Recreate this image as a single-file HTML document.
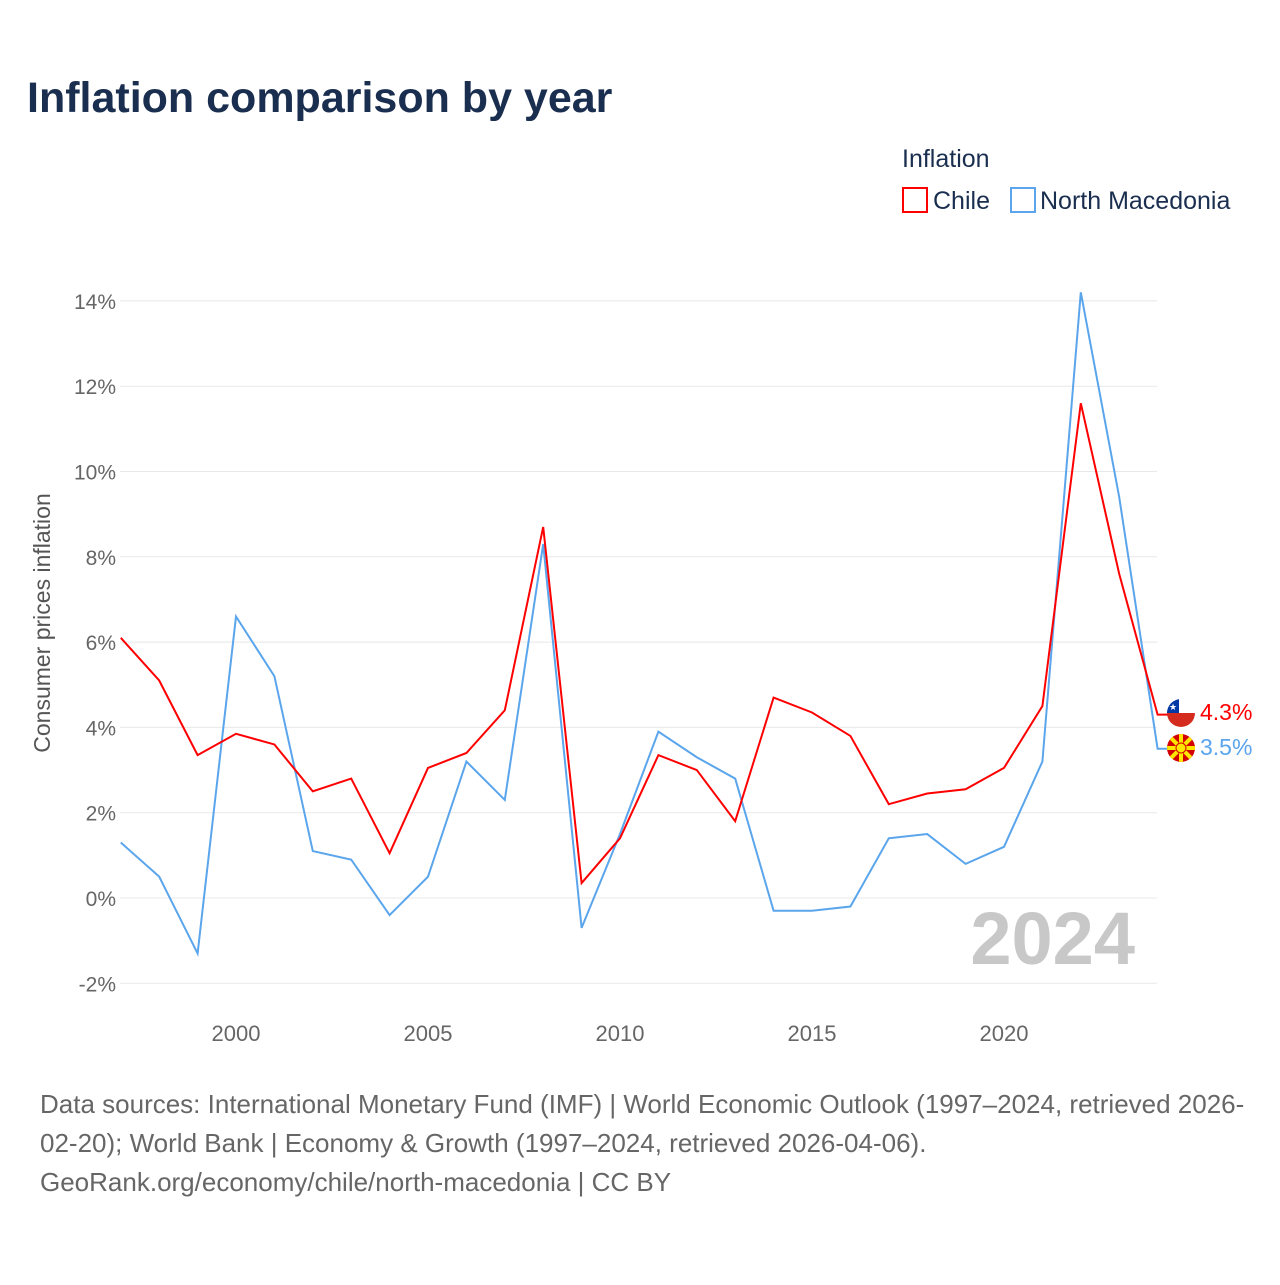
<!DOCTYPE html>
<html><head><meta charset="utf-8"><style>
body{margin:0;background:#fff;font-family:"Liberation Sans",sans-serif;}
</style></head><body>
<svg width="1280" height="1280" xmlns="http://www.w3.org/2000/svg">
<text x="27" y="112" font-size="43" font-weight="bold" fill="#1a2e4f">Inflation comparison by year</text>
<text x="902" y="167" font-size="25" fill="#1a2e4f">Inflation</text>
<g><rect x="903" y="188" width="24" height="24" fill="none" stroke="#f00" stroke-width="2"/><text x="933" y="209" font-size="25" fill="#1a2e4f">Chile</text></g>
<g><rect x="1011" y="188" width="24" height="24" fill="none" stroke="#5aa5ec" stroke-width="2"/><text x="1040" y="209" font-size="25" fill="#1a2e4f">North Macedonia</text></g>
<g id="grid"></g><g id="yt"></g><g id="xt"></g>
<text transform="translate(50,623) rotate(-90)" text-anchor="middle" font-size="23" fill="#555">Consumer prices inflation</text>
<text x="1135" y="964" text-anchor="end" font-size="74" font-weight="bold" fill="#c8c8c8">2024</text>
<g id="series"></g>
<g><clipPath id="c1"><circle cx="1181" cy="713" r="14"/></clipPath><g clip-path="url(#c1)"><rect x="1167" y="699" width="28" height="14" fill="#fff"/><rect x="1167" y="713" width="28" height="14" fill="#d52b1e"/><rect x="1167" y="699" width="12" height="14" fill="#0039a6"/><text x="1173" y="710" font-size="9" fill="#fff" text-anchor="middle">★</text></g></g>
<g><clipPath id="c2"><circle cx="1181" cy="748" r="14"/></clipPath><g clip-path="url(#c2)"><rect x="1167" y="734" width="28" height="28" fill="#d20000"/><g stroke="#ffe600" stroke-width="4"><line x1="1167" y1="734" x2="1195" y2="762"/><line x1="1195" y1="734" x2="1167" y2="762"/><line x1="1181" y1="734" x2="1181" y2="762"/><line x1="1167" y1="748" x2="1195" y2="748"/></g><circle cx="1181" cy="748" r="5" fill="#ffe600" stroke="#d20000" stroke-width="1"/></g></g>
<text x="1200" y="720" font-size="23" fill="#f00">4.3%</text>
<text x="1200" y="755" font-size="23" fill="#5aa5ec">3.5%</text>
<text font-size="26" fill="#666"><tspan x="40" y="1113">Data sources: International Monetary Fund (IMF) | World Economic Outlook (1997–2024, retrieved 2026-</tspan><tspan x="40" y="1152">02-20); World Bank | Economy &amp; Growth (1997–2024, retrieved 2026-04-06).</tspan><tspan x="40" y="1191">GeoRank.org/economy/chile/north-macedonia | CC BY</tspan></text>
</svg>
<script>
const years=[1997,1998,1999,2000,2001,2002,2003,2004,2005,2006,2007,2008,2009,2010,2011,2012,2013,2014,2015,2016,2017,2018,2019,2020,2021,2022,2023,2024];
const chile=[6.1,5.1,3.35,3.85,3.6,2.5,2.8,1.05,3.05,3.4,4.4,8.7,0.35,1.4,3.35,3.0,1.8,4.7,4.35,3.8,2.2,2.45,2.55,3.05,4.5,11.6,7.6,4.3];
const macedonia=[1.3,0.5,-1.3,6.6,5.2,1.1,0.9,-0.4,0.5,3.2,2.3,8.3,-0.7,1.5,3.9,3.3,2.8,-0.3,-0.3,-0.2,1.4,1.5,0.8,1.2,3.2,14.2,9.4,3.5];
const yTicks=[-2,0,2,4,6,8,10,12,14];
const xTicks=[2000,2005,2010,2015,2020];
const NS="http://www.w3.org/2000/svg";
const x=v=>120.8+(v-1997)*38.4, y=v=>898-v*42.65;
function mk(t,a,p){const e=document.createElementNS(NS,t);for(const k in a)e.setAttribute(k,a[k]);document.getElementById(p).appendChild(e);return e;}
yTicks.forEach(v=>{
 const l=mk('line',{x1:120,x2:1157,y1:y(v),y2:y(v),stroke:'#e8e8e8','stroke-width':1},'grid');
 
 
 const t=mk('text',{x:116,y:y(v)+8,'text-anchor':'end','font-size':21,fill:'#666'},'yt');
 t.textContent=v+'%';
 
 
});
xTicks.forEach(v=>{
 const t=mk('text',{x:x(v),y:1041,'text-anchor':'middle','font-size':22,fill:'#666'},'xt');
 t.textContent=v;
 
 
});
function line(d,c,n){
 let p=d.map((v,i)=>(i?'L':'M')+x(years[i])+' '+y(v)).join(' ');
 p+=' L'+(x(years[years.length-1])+10)+' '+y(d[d.length-1]);
 const e=mk('path',{d:p,fill:'none',stroke:c,'stroke-width':2},'series');
 
 
}
line(macedonia,'#5aa5ec','north-macedonia-line');
line(chile,'#f00','chile-line');
</script>
</body></html>
